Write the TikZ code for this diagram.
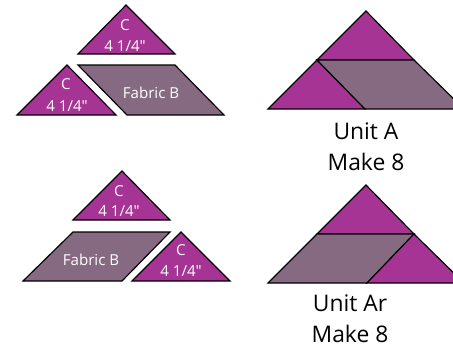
\documentclass[tikz,border=0pt]{standalone}
\usepackage{fontspec}
\setmainfont{Open Sans}
\definecolor{plum}{HTML}{A63494}
\definecolor{mauve}{HTML}{866A82}
\begin{document}
\begin{tikzpicture}[x=0.02cm,y=-0.02cm,
	patchC/.style={draw=black,fill=plum,line width=0.65pt,line join=miter},
	patchB/.style={draw=black,fill=mauve,line width=0.65pt,line join=miter},
	cut/.style={text=white,font=\fontsize{8.6}{10}\selectfont,inner sep=0pt},
	unit/.style={text=black,font=\fontsize{13}{15}\selectfont,inner sep=0pt}]
\useasboundingbox (0,0) rectangle (453,346);
\clip (0,0) rectangle (453,346);
% pieces, top
\draw[patchC] (126,5) -- (175,54) -- (78,54) -- cycle;
\draw[patchC] (67,65) -- (116,115) -- (17,115) -- cycle;
\draw[patchB] (78,65) -- (175,65) -- (224,115) -- (127,115) -- cycle;
\node[cut] (c1) at (125,25) {C};
\node[cut] (s1) at (125,46) {4 1/4\char"2033};
\node[cut] (c2) at (66,84) {C};
\node[cut] (s2) at (67,106) {4 1/4\char"2033};
\node[cut] (b1) at (151,93) {Fabric B};
% unit A
\draw[patchC] (366,11) -- (414,60) -- (317,60) -- cycle;
\draw[patchC] (317,60) -- (365,109) -- (268,109) -- cycle;
\draw[patchB] (317,60) -- (414,60) -- (464,109) -- (365,109) -- cycle;
\node[unit] (a1) at (366,131) {Unit A};
\node[unit] (a2) at (366,162) {Make 8};
% pieces, bottom
\draw[patchC] (122,171) -- (170,220) -- (73,220) -- cycle;
\draw[patchB] (73,232) -- (170,232) -- (122,281) -- (23,281) -- cycle;
\draw[patchC] (181,232) -- (230,281) -- (132,281) -- cycle;
\node[cut] (c3) at (119,191) {C};
\node[cut] (s3) at (119,211) {4 1/4\char"2033};
\node[cut] (b2) at (91,260) {Fabric B};
\node[cut] (c4) at (181,250) {C};
\node[cut] (s4) at (181,271) {4 1/4\char"2033};
% unit Ar
\draw[patchC] (366,185) -- (414,234) -- (317,234) -- cycle;
\draw[patchB] (317,234) -- (414,234) -- (367,283) -- (268,283) -- cycle;
\draw[patchC] (414,234) -- (464,283) -- (367,283) -- cycle;
\node[unit] (r1) at (350,303) {Unit Ar};
\node[unit] (r2) at (350,334) {Make 8};
\end{tikzpicture}
\end{document}
